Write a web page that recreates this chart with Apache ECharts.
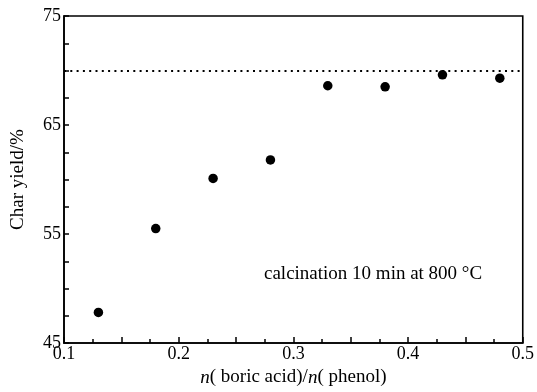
<!DOCTYPE html>
<html>
<head>
<meta charset="utf-8">
<script src="https://cdn.jsdelivr.net/npm/echarts@6/dist/echarts.min.js"></script>
<style>html,body{margin:0;padding:0;background:#fff}#c{width:537px;height:392px}</style>
</head>
<body>
<div id="c"></div>
<script>
var ratios = [0.13, 0.18, 0.23, 0.28, 0.33, 0.38, 0.43, 0.48];
var charYield = [47.8, 55.5, 60.1, 61.8, 68.6, 68.5, 69.6, 69.3];
var referenceLevel = 70;
var xTickLabels = ['0.1', '0.2', '0.3', '0.4', '0.5'];
var yTickLabels = ['45', '55', '65', '75'];
var annotation = 'calcination 10 min at 800 °C';

var points = ratios.map(function (x, i) { return [x, charYield[i]]; });
var font = 'Liberation Serif, Times New Roman, serif';

var chart = echarts.init(document.getElementById('c'), null, {renderer: 'canvas'});
chart.setOption({
  animation: false,
  backgroundColor: '#fff',
  grid: {left: 64, right: 13, top: 16, bottom: 44, show: true, borderColor: '#000', borderWidth: 1.6, backgroundColor: 'transparent'},
  xAxis: {
    type: 'value', min: 0.1, max: 0.5, interval: 0.05,
    axisLine: {lineStyle: {color: '#000', width: 1.6}},
    axisTick: {inside: true, length: 6, lineStyle: {color: '#000', width: 1.5}},
    minorTick: {show: true, splitNumber: 2, length: 4, lineStyle: {color: '#000', width: 1.5}},
    splitLine: {show: false},
    axisLabel: {
      color: '#000', fontFamily: font, fontSize: 18, margin: 2,
      formatter: function (v) {
        var s = v.toFixed(1);
        return (Math.abs(v * 10 - Math.round(v * 10)) < 1e-6 && xTickLabels.indexOf(s) >= 0) ? s : '';
      }
    },
    name: '{i|n}( boric acid)/{i|n}( phenol)',
    nameLocation: 'middle', nameGap: 25,
    nameTextStyle: {color: '#000', fontFamily: font, fontSize: 19, rich: {i: {fontStyle: 'italic', fontFamily: font, fontSize: 19, color: '#000'}}}
  },
  yAxis: {
    type: 'value', min: 45, max: 75, interval: 2.5,
    axisLine: {lineStyle: {color: '#000', width: 1.6}},
    axisTick: {inside: true, length: 5, lineStyle: {color: '#000', width: 1.5}},
    splitLine: {show: false},
    axisLabel: {
      color: '#000', fontFamily: font, fontSize: 18, margin: 3,
      formatter: function (v) { var s = String(v); return yTickLabels.indexOf(s) >= 0 ? s : ''; }
    },
    name: 'Char yield/%',
    nameLocation: 'middle', nameGap: 36,
    nameTextStyle: {color: '#000', fontFamily: font, fontSize: 19}
  },
  series: [{
    type: 'scatter',
    data: points,
    symbol: 'circle', symbolSize: 9.5,
    itemStyle: {color: '#000', opacity: 1},
    markLine: {
      silent: true, symbol: 'none', label: {show: false},
      lineStyle: {color: '#000', type: [2, 4.3], width: 2},
      data: [{yAxis: referenceLevel}]
    }
  }],
  graphic: [{
    type: 'text', left: 264, top: 265,
    style: {text: annotation, fill: '#000', font: '19px ' + font}
  }]
});
</script>
</body>
</html>
